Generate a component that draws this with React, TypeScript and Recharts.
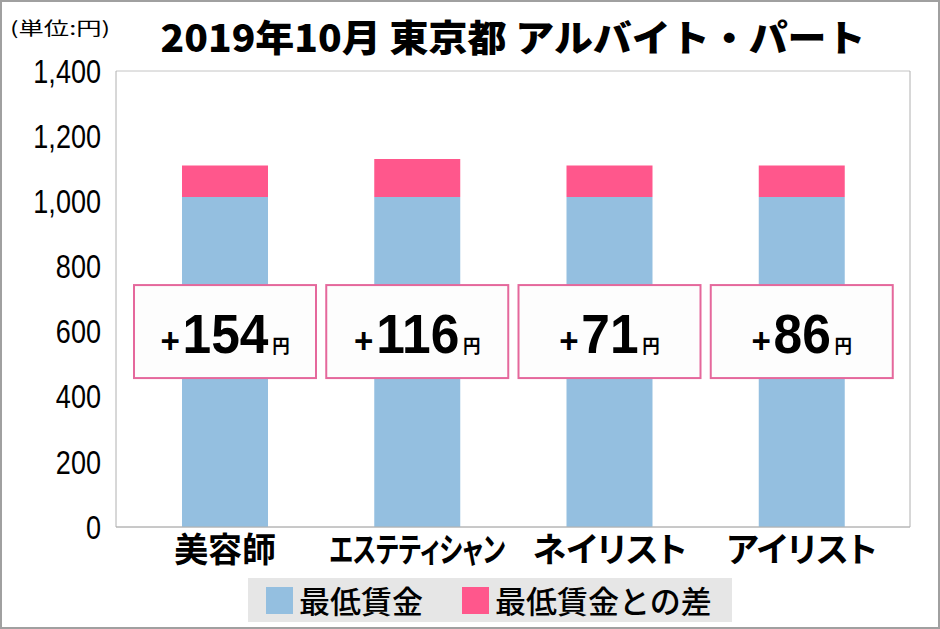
import React, { useLayoutEffect, useRef, useState } from 'react';
import { BarChart, Bar, XAxis, YAxis, CartesianGrid, Legend, LabelList } from 'recharts';

const categories = ['美容師', 'エステティシャン', 'ネイリスト', 'アイリスト'];
const minimumWage = [1013, 1013, 1013, 1013];
const wageGap = [97, 117, 97, 97];
const gapLabels = [154, 116, 71, 86];
const yTicks = [0, 200, 400, 600, 800, 1000, 1200, 1400];
const seriesNames = ['最低賃金', '最低賃金との差'];
const boxLevel = 600;

const data = categories.map((name, i) => ({
  name,
  base: minimumWage[i],
  gap: wageGap[i],
  label: gapLabels[i],
}));

const BLUE = '#94BFE0';
const PINK = '#FF578C';
const GRID = '#c4c4c4';
const CJK = '"Noto Sans CJK JP", "Noto Sans CJK SC", sans-serif';
const LATIN = '"Liberation Sans", Arial, sans-serif';
const MAX_XLABEL = 176;

const BoxLabel = (props: any) => {
  const vb = props.viewBox || props;
  const x = vb.x ?? props.x;
  const y = vb.y ?? props.y;
  const width = vb.width ?? props.width;
  const height = vb.height ?? props.height;
  const index = props.index;
  const value = props.value;
  if (x == null || y == null || index == null) return null;
  const base = data[index].base;
  const cx = x + width / 2;
  const cy = y + height * (1 - boxLevel / base);
  return (
    <g>
      <rect x={cx - 91} y={cy - 46.5} width={182} height={93} fill="#fdfdfd" stroke="#E5689C" strokeWidth={2} />
      <g transform={`translate(${cx},${cy + 21}) scale(0.92,1)`}>
        <text x={0} y={0} textAnchor="middle" fontFamily={LATIN} fontWeight="bold" fill="#000">
          <tspan fontSize={36}>+</tspan>
          <tspan fontSize={56} dx={3}>{value}</tspan>
          <tspan fontSize={19} fontFamily={CJK} dx={4}>円</tspan>
        </text>
      </g>
    </g>
  );
};

const XTick = (props: any) => {
  const { x, y, payload } = props;
  const ref = useRef<SVGTextElement | null>(null);
  const [scale, setScale] = useState<number>(1);
  useLayoutEffect(() => {
    if (ref.current && scale === 1) {
      const w = ref.current.getComputedTextLength();
      if (w > MAX_XLABEL) setScale(MAX_XLABEL / w);
    }
  });
  return (
    <g transform={`translate(${x},${y + 35}) scale(${scale},1)`}>
      <text
        ref={ref}
        x={0}
        y={0}
        textAnchor="middle"
        fontSize={34}
        fontWeight={700}
        fontFamily={CJK}
        fill="#000"
        style={{ fontFeatureSettings: '"palt"' }}
      >
        {payload.value}
      </text>
    </g>
  );
};

const YTick = (props: any) => {
  const { x, y, payload } = props;
  return (
    <g transform={`translate(${x},${y}) scale(0.82,1)`}>
      <text x={0} y={0} dy="0.355em" textAnchor="end" fontSize={33} fontFamily={LATIN} fill="#000">
        {Number(payload.value).toLocaleString('en-US')}
      </text>
    </g>
  );
};

const renderLegend = (props: any) => {
  const payload = props.payload || [];
  return (
    <div
      style={{
        display: 'flex',
        alignItems: 'center',
        background: '#e6e6e6',
        width: 484,
        height: 44,
        boxSizing: 'border-box',
        paddingLeft: 18,
        fontFamily: CJK,
        fontSize: 31,
        fontWeight: 500,
        color: '#000',
      }}
    >
      {payload.map((p: any, i: number) => (
        <div key={i} style={{ display: 'flex', alignItems: 'center', marginRight: i === 0 ? 39 : 0 }}>
          <div style={{ width: 27, height: 27, background: p.color, marginRight: 6 }} />
          <span style={{ lineHeight: '44px' }}>{p.value}</span>
        </div>
      ))}
    </div>
  );
};

export default function App() {
  return (
    <div style={{ position: 'absolute', left: 0, top: 0, width: 940, height: 629, background: '#fff' }}>
      <BarChart
        width={940}
        height={629}
        data={data}
        margin={{ top: 71, right: 0, left: 0, bottom: 62 }}
        barSize={86}
      >
        <CartesianGrid vertical={false} stroke={GRID} />
        <XAxis
          dataKey="name"
          axisLine={{ stroke: '#b0b0b0' }}
          tickLine={false}
          tickSize={0}
          tickMargin={0}
          height={40}
          padding={{ left: 13, right: 12 }}
          tick={<XTick />}
          interval={0}
        />
        <YAxis
          yAxisId="left"
          width={116}
          domain={[0, 1400]}
          ticks={yTicks}
          interval={0}
          axisLine={{ stroke: '#b0b0b0' }}
          tickLine={false}
          tickSize={0}
          tickMargin={15}
          tick={<YTick />}
        />
        <YAxis
          yAxisId="right"
          orientation="right"
          width={30}
          domain={[0, 1400]}
          ticks={yTicks}
          axisLine={{ stroke: '#b0b0b0' }}
          tickLine={false}
          tick={false}
        />
        <Legend
          layout="horizontal"
          verticalAlign="middle"
          align="center"
          content={renderLegend}
          wrapperStyle={{ position: 'absolute', left: 248, top: 578, width: 484, height: 44 }}
        />
        <Bar yAxisId="left" dataKey="base" name={seriesNames[0]} stackId="a" fill={BLUE} isAnimationActive={false}>
          <LabelList dataKey="label" content={<BoxLabel />} />
        </Bar>
        <Bar yAxisId="left" dataKey="gap" name={seriesNames[1]} stackId="a" fill={PINK} isAnimationActive={false} />
      </BarChart>
      <svg width={940} height={70} style={{ position: 'absolute', left: 0, top: 0, pointerEvents: 'none' }}>
        <text x={10} y={35} fontSize={18} fontFamily={CJK} fill="#000" textLength={100} lengthAdjust="spacingAndGlyphs">
          (単位:円)
        </text>
        <text
          x={513}
          y={52}
          textAnchor="middle"
          fontSize={37}
          fontWeight={900}
          fontFamily={CJK}
          fill="#000"
          textLength={705}
          lengthAdjust="spacingAndGlyphs"
        >
          2019年10月 東京都 アルバイト・パート
        </text>
      </svg>
      <div
        style={{
          position: 'absolute',
          left: 0,
          top: 0,
          width: 940,
          height: 629,
          border: '2px solid #a0a0a0',
          boxSizing: 'border-box',
          pointerEvents: 'none',
        }}
      />
    </div>
  );
}
